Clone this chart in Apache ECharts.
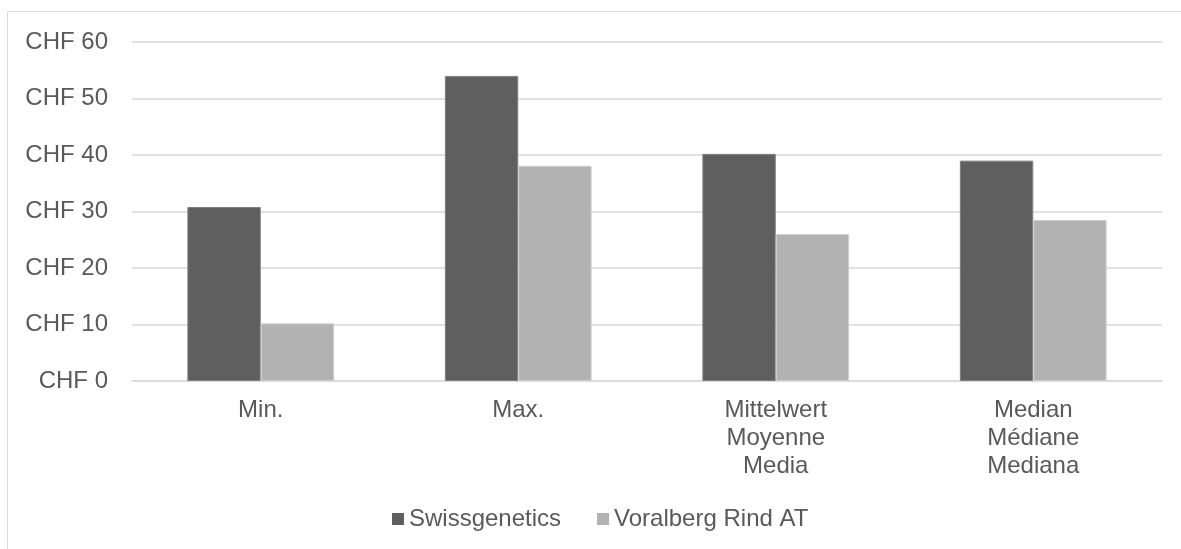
<!DOCTYPE html>
<html>
<head>
<meta charset="utf-8">
<script src="https://cdn.jsdelivr.net/npm/echarts@6/dist/echarts.min.js"></script>
<style>
html,body{margin:0;padding:0;background:#fff;}
#c{width:1181px;height:549px;}
</style>
</head>
<body>
<div id="c"></div>
<script>
const categories = ['Min.', 'Max.', 'Mittelwert\nMoyenne\nMedia', 'Median\nMédiane\nMediana'];
const seriesNames = ['Swissgenetics', 'Voralberg Rind AT'];
const swissgenetics = [30.8, 54.0, 40.2, 39.0];
const voralberg = [10.2, 38.1, 26.0, 28.5];
const yTicks = [0, 10, 20, 30, 40, 50, 60];

const font = '"Liberation Sans", Arial, sans-serif';
const textColor = '#595959';

const chart = echarts.init(document.getElementById('c'), null, {renderer: 'canvas'});
chart.setOption({
  animation: false,
  backgroundColor: '#ffffff',
  graphic: [{
    type: 'rect',
    shape: {x: 7.5, y: 11.5, width: 1200, height: 560},
    style: {fill: 'none', stroke: '#d9d9d9', lineWidth: 1},
    silent: true, z: -1
  }],
  grid: {left: 132, right: 19, top: 42, bottom: 168, containLabel: false},
  legend: {
    left: 392, top: 507, padding: 0,
    itemWidth: 12, itemHeight: 12, itemGap: 36,
    icon: 'rect',
    itemStyle: {borderWidth: 0},
    textStyle: {fontFamily: font, fontSize: 24, color: textColor},
    data: seriesNames
  },
  xAxis: {
    type: 'category',
    data: categories,
    axisLine: {show: true, lineStyle: {color: '#d9d9d9', width: 1.5}},
    axisTick: {show: false},
    axisLabel: {
      fontFamily: font, fontSize: 24, color: textColor,
      lineHeight: 28, margin: 15, interval: 0
    }
  },
  yAxis: {
    type: 'value',
    min: yTicks[0], max: yTicks[yTicks.length - 1], interval: 10,
    axisLine: {show: false},
    axisTick: {show: false},
    splitLine: {lineStyle: {color: '#d9d9d9', width: 1.5}},
    axisLabel: {
      fontFamily: font, fontSize: 24, color: textColor, margin: 24,
      formatter: v => 'CHF ' + v
    }
  },
  series: [
    {
      name: seriesNames[0], type: 'bar', data: swissgenetics,
      barGap: '0%', barCategoryGap: '43%',
      itemStyle: {color: '#5f5f5f', borderColor: '#7f7f7f', borderWidth: 1}
    },
    {
      name: seriesNames[1], type: 'bar', data: voralberg,
      itemStyle: {color: '#b2b2b2', borderColor: '#d0d0d0', borderWidth: 1}
    }
  ]
});
</script>
</body>
</html>
